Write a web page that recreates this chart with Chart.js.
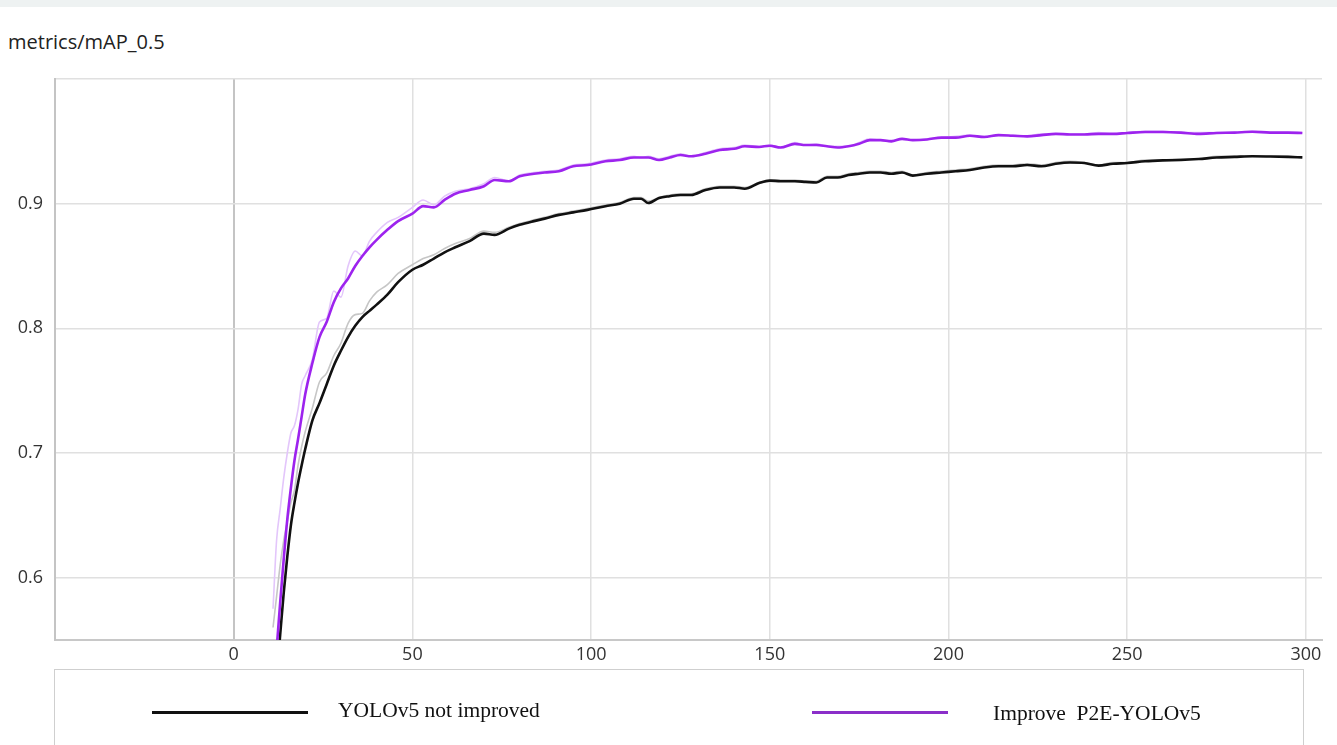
<!DOCTYPE html>
<html>
<head>
<meta charset="utf-8">
<script src="https://cdn.jsdelivr.net/npm/chart.js@4.4.1/dist/chart.umd.min.js"></script>
<style>
  html, body { margin: 0; padding: 0; background: #fff; }
  #wrap { position: relative; width: 1337px; height: 745px; overflow: hidden; background: #fff; }
  #topband { position: absolute; left: 0; top: 0; width: 1337px; height: 7px; background: #eef2f2; }
  #title { position: absolute; left: 8px; top: 31.5px; font-family: "Open Sans", sans-serif; font-size: 20px; line-height: 20px; color: #222; white-space: pre; }
  canvas { position: absolute; left: 0; top: 0; }
  #legendbox { position: absolute; left: 54px; top: 669px; width: 1250px; height: 100px; border: 1.5px solid #cfcfcf; box-sizing: border-box; }
  .lline { position: absolute; height: 3px; }
  .ltext { position: absolute; font-family: "Liberation Serif", "Times New Roman", serif; font-size: 21.5px; line-height: 22px; color: #111; white-space: pre; }
</style>
</head>
<body>
<div id="wrap">
  <div id="topband"></div>
  <div id="title">metrics/mAP_0.5</div>
  <canvas id="c" width="1337" height="745"></canvas>
  <div id="legendbox"></div>
  <div class="lline" style="left:152px; top:711px; width:156px; background:#111;"></div>
  <div class="ltext" id="lab1" style="left:338px; top:698.5px;"></div>
  <div class="lline" style="left:812px; top:711px; width:136px; background:#8b2fc9;"></div>
  <div class="ltext" id="lab2" style="left:993px; top:701.5px;"></div>
</div>
<script>
// ---- data ----
const seriesNames = ["YOLOv5 not improved", "Improve  P2E-YOLOv5"];
const epochs = [11,12,13,14,15,16,17,18,19,20,22,24,26,28,30,32,34,36,38,40,43,46,50,53,56,59,62,66,70,73,77,80,84,87,91,95,99,104,108,112,114,116,119,122,125,128,132,136,140,143,147,150,153,157,160,163,166,169,172,175,178,181,184,187,190,194,198,202,206,210,214,218,222,226,230,234,238,242,246,250,255,260,265,270,275,280,285,290,295,299];

const p2eSmoothed = [0.505,0.542,0.58,0.615,0.647,0.672,0.694,0.711,0.729,0.747,0.772,0.793,0.805,0.821,0.832,0.840,0.850,0.858,0.865,0.871,0.879,0.886,0.892,0.898,0.897,0.903,0.908,0.911,0.914,0.919,0.918,0.922,0.924,0.925,0.926,0.930,0.931,0.934,0.935,0.937,0.937,0.937,0.935,0.937,0.939,0.938,0.940,0.943,0.944,0.946,0.9455,0.9465,0.945,0.948,0.947,0.947,0.946,0.945,0.946,0.948,0.951,0.951,0.950,0.952,0.951,0.9515,0.953,0.953,0.9545,0.9535,0.955,0.9545,0.954,0.955,0.956,0.9555,0.9555,0.956,0.956,0.9567,0.9575,0.9575,0.957,0.956,0.9567,0.957,0.9577,0.957,0.957,0.9567];

const baseSmoothed = [0.485,0.52,0.554,0.588,0.617,0.642,0.66,0.676,0.69,0.703,0.726,0.740,0.755,0.770,0.782,0.793,0.802,0.809,0.814,0.819,0.827,0.837,0.847,0.851,0.856,0.861,0.865,0.870,0.876,0.875,0.880,0.883,0.886,0.888,0.891,0.893,0.895,0.898,0.900,0.904,0.904,0.9005,0.9045,0.906,0.907,0.907,0.911,0.913,0.913,0.912,0.9165,0.9185,0.918,0.918,0.9175,0.917,0.921,0.921,0.923,0.924,0.925,0.925,0.924,0.925,0.9225,0.924,0.925,0.926,0.927,0.929,0.930,0.930,0.931,0.930,0.932,0.933,0.9326,0.9305,0.932,0.9326,0.934,0.9347,0.935,0.9358,0.937,0.9375,0.938,0.9378,0.9375,0.9371];

const p2eRaw = [0.575,0.63,0.655,0.68,0.70,0.716,0.722,0.735,0.755,0.762,0.775,0.805,0.808,0.830,0.825,0.850,0.862,0.858,0.870,0.877,0.885,0.889,0.897,0.903,0.899,0.906,0.910,0.912,0.916,0.921,0.918,0.923,0.925,0.926,0.927,0.931,0.932,0.935,0.936,0.938,0.937,0.938,0.936,0.938,0.940,0.938,0.941,0.944,0.945,0.947,0.946,0.947,0.945,0.949,0.947,0.948,0.946,0.946,0.946,0.949,0.952,0.951,0.951,0.952,0.951,0.952,0.953,0.954,0.955,0.954,0.955,0.955,0.954,0.956,0.956,0.956,0.956,0.957,0.956,0.957,0.958,0.958,0.957,0.957,0.957,0.957,0.958,0.957,0.957,0.957];

const baseRaw = [0.56,0.585,0.61,0.63,0.645,0.66,0.67,0.69,0.705,0.717,0.736,0.757,0.764,0.778,0.788,0.804,0.811,0.812,0.822,0.829,0.835,0.844,0.851,0.856,0.859,0.864,0.868,0.872,0.878,0.877,0.881,0.884,0.887,0.889,0.892,0.894,0.896,0.899,0.901,0.905,0.905,0.902,0.905,0.907,0.908,0.908,0.912,0.914,0.914,0.913,0.917,0.919,0.919,0.919,0.918,0.918,0.922,0.922,0.924,0.925,0.926,0.926,0.925,0.926,0.923,0.925,0.926,0.927,0.928,0.930,0.931,0.931,0.932,0.931,0.933,0.934,0.933,0.931,0.933,0.933,0.935,0.935,0.936,0.936,0.938,0.938,0.938,0.938,0.938,0.937];

const xTicks = [0, 50, 100, 150, 200, 250, 300];
const yTicks = [0.6, 0.7, 0.8, 0.9];

document.getElementById('lab1').textContent = seriesNames[0];
document.getElementById('lab2').textContent = seriesNames[1];

function pts(xs, ys) { return xs.map((x, i) => ({ x: x, y: ys[i] })); }

const ctx = document.getElementById('c').getContext('2d');
new Chart(ctx, {
  type: 'line',
  data: {
    datasets: [
      { label: seriesNames[1], data: pts(epochs, p2eSmoothed), borderColor: '#9d23ee', borderWidth: 2.6, pointRadius: 0, cubicInterpolationMode: 'monotone', order: 1 },
      { label: seriesNames[0], data: pts(epochs, baseSmoothed), borderColor: '#111111', borderWidth: 2.6, pointRadius: 0, cubicInterpolationMode: 'monotone', order: 2 },
      { label: seriesNames[1] + ' raw', data: pts(epochs, p2eRaw), borderColor: '#e3c6fb', borderWidth: 1.6, pointRadius: 0, cubicInterpolationMode: 'monotone', order: 3 },
      { label: seriesNames[0] + ' raw', data: pts(epochs, baseRaw), borderColor: '#c6c6c6', borderWidth: 1.6, pointRadius: 0, cubicInterpolationMode: 'monotone', order: 4 }
    ]
  },
  options: {
    responsive: false,
    animation: false,
    layout: { padding: { left: 0, right: 15, top: 79, bottom: 75 } },
    plugins: { legend: { display: false }, tooltip: { enabled: false }, title: { display: false } },
    scales: {
      x: {
        type: 'linear',
        min: -50,
        max: 304.5,
        afterFit: s => { s.height = 30; },
        afterBuildTicks: s => { s.ticks = [-50].concat(xTicks).map(v => ({ value: v })); },
        ticks: {
          includeBounds: false,
          stepSize: 50,
          padding: 4,
          color: '#333',
          font: { family: 'Open Sans', size: 18 },
          maxRotation: 0,
          autoSkip: false,
          callback: v => (xTicks.includes(v) ? String(v) : '')
        },
        grid: {
          drawTicks: false,
          color: c => (c.tick && c.tick.value === 0 ? '#c4c4c4' : (c.tick && c.tick.value === -50 ? '#c4c4c4' : '#e0e0e0')),
          lineWidth: c => (c.tick && (c.tick.value === 0 || c.tick.value === -50) ? 2 : 1.5)
        },
        border: { display: true, color: '#c8c8c8', width: 2 }
      },
      y: {
        type: 'linear',
        min: 0.55,
        max: 1.0,
        afterFit: s => { s.width = 55; },
        afterBuildTicks: s => { s.ticks = yTicks.concat([1.0]).map(v => ({ value: v })); },
        ticks: {
          includeBounds: false,
          padding: 12,
          color: '#333',
          font: { family: 'Open Sans', size: 18 },
          callback: v => (yTicks.some(t => Math.abs(t - v) < 1e-6) ? v.toFixed(1) : '')
        },
        grid: { drawTicks: false, color: '#e0e0e0', lineWidth: 1.5 },
        border: { display: true, color: '#c4c4c4', width: 2 }
      }
    }
  }
});
</script>
</body>
</html>
